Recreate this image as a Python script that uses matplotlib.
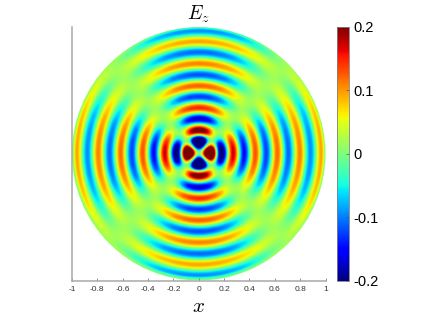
import numpy as np
import matplotlib
matplotlib.use('Agg')
import matplotlib.pyplot as plt
from matplotlib.patches import Circle

plt.rcParams['font.family'] = ['Liberation Sans', 'DejaVu Sans']
plt.rcParams['mathtext.fontset'] = 'cm'

# radial profile along +x, read at stripe centres
peak_r = [0.0, 0.088, 0.178, 0.27, 0.357, 0.445, 0.53, 0.618, 0.705, 0.795, 0.88, 0.965, 1.0]
peak_val = [0.0, 0.4, -0.23, 0.175, -0.15, 0.13, -0.125, 0.12, -0.11, 0.11, -0.095, 0.095, 0.005]

# angular envelope from the x axis to the diagonal
angle_deg = [0, 10, 20, 28, 35, 40, 45]
angle_amp = [1.0, 0.96, 0.82, 0.58, 0.31, 0.14, 0.0]
# slight yellow wash towards the diagonal
angle_wash = [0.0, 0.0, 0.002, 0.007, 0.013, 0.017, 0.018]

xticks = [-1, -0.8, -0.6, -0.4, -0.2, 0, 0.2, 0.4, 0.6, 0.8, 1]
xticklabels = ['-1', '-0.8', '-0.6', '-0.4', '-0.2', '0', '0.2', '0.4', '0.6', '0.8', '1']
cticks = [-0.2, -0.1, 0, 0.1, 0.2]
cticklabels = ['-0.2', '-0.1', '0', '0.1', '0.2']


def radial(r):
    # smooth easing between the values read at the extrema
    i = np.clip(np.searchsorted(peak_r, r) - 1, 0, len(peak_r) - 2)
    r0 = np.array(peak_r)[i]
    r1 = np.array(peak_r)[i + 1]
    v0 = np.array(peak_val)[i]
    v1 = np.array(peak_val)[i + 1]
    t = np.clip((r - r0) / (r1 - r0), 0, 1)
    return v0 + (v1 - v0) * (1 - np.cos(np.pi * t)) / 2


n = 601
x = np.linspace(-1, 1, n)
X, Y = np.meshgrid(x, x)
R = np.hypot(X, Y)
# folded angle from nearest axis, sign flips across each diagonal
fold = np.degrees(np.arctan2(np.minimum(np.abs(X), np.abs(Y)), np.maximum(np.abs(X), np.abs(Y))))
sign = np.where(np.abs(X) >= np.abs(Y), 1.0, -1.0)
Ez = radial(R) * np.interp(fold, angle_deg, angle_amp) * sign
Ez = Ez + np.interp(fold, angle_deg, angle_wash) * np.minimum(R / 0.4, 1)

fig = plt.figure(figsize=(4.23, 3.17), dpi=100)
ax = fig.add_axes([71.5 / 423, 1 - 280.5 / 317, 254.5 / 423, 253.5 / 317])
im = ax.imshow(Ez, extent=[-1, 1, -1, 1], origin='lower', cmap='jet', vmin=-0.2, vmax=0.2,
               interpolation='bilinear')
clip = Circle((0, 0), 1, transform=ax.transData)
im.set_clip_path(clip)
ax.set_xlim(-1, 1)
ax.set_ylim(-1, 1)
ax.spines['top'].set_visible(False)
ax.spines['right'].set_visible(False)
ax.spines['left'].set_color('#a8a8a8')
ax.spines['bottom'].set_color('#a8a8a8')
ax.spines['left'].set_linewidth(1.1)
ax.spines['bottom'].set_linewidth(1.1)
ax.set_yticks([])
ax.set_xticks(xticks)
ax.set_xticklabels(xticklabels)
ax.tick_params(axis='x', direction='in', length=2.5, width=0.6, color='#808080', labelsize=6,
               labelcolor='#333333', pad=4)
ax.set_title(r'$E_z$', fontsize=14, pad=5)
ax.set_xlabel(r'$x$', fontsize=15, labelpad=2.5)

cax = fig.add_axes([337 / 423, 1 - 280.5 / 317, 12 / 423, 253.5 / 317])
cb = fig.colorbar(im, cax=cax, ticks=cticks)
cb.set_ticklabels(cticklabels)
cb.outline.set_edgecolor('#808080')
cb.outline.set_linewidth(0.6)
cax.tick_params(direction='in', length=2, width=0.5, color='#555555', labelsize=10.5, pad=3)

fig.savefig('out.png', dpi=100)
